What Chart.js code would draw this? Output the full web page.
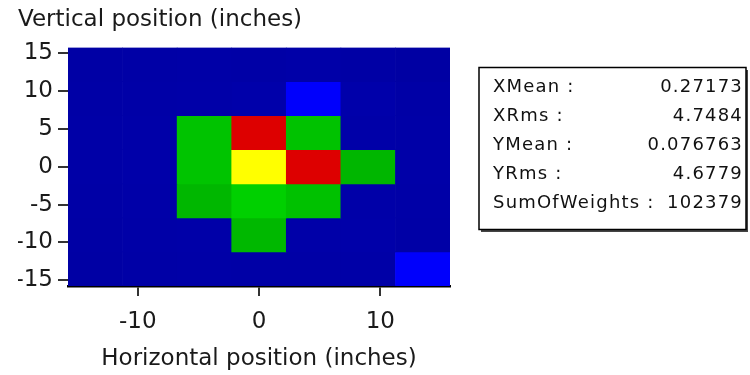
<!DOCTYPE html>
<html>
<head>
<meta charset="utf-8">
<script src="https://cdn.jsdelivr.net/npm/chart.js@4.4.0/dist/chart.umd.min.js"></script>
<style>
  html, body { margin: 0; padding: 0; background: #ffffff; }
  #wrap { width: 750px; height: 375px; position: relative; }
</style>
</head>
<body>
<div id="wrap"><canvas id="c" width="750" height="375"></canvas></div>
<script>
// Bin centres in inches (7 x 7 bins, each 4.5 in wide, spanning -15.75 .. 15.75)
const xBins = [-13.5, -9, -4.5, 0, 4.5, 9, 13.5];
const yBins = [13.5, 9, 4.5, 0, -4.5, -9, -13.5];
const binWidth = 4.5;
const axisMin = -15.75;
const axisMax = 15.75;

// Tick labels
const xTicks = [-10, 0, 10];
const yTicks = [-15, -10, -5, 0, 5, 10, 15];

// Entries per bin, one array per row of the histogram (top row first)
const rowY13_5 = [829, 900, 950, 900, 980, 870, 760];
const rowY9 = [880, 960, 1000, 1100, 2500, 1080, 900];
const rowY4_5 = [930, 1020, 5000, 8400, 4900, 1000, 940];
const rowY0 = [950, 1060, 5100, 9800, 8100, 3600, 1010];
const rowYm4_5 = [900, 1010, 3700, 6300, 4800, 1000, 960];
const rowYm9 = [860, 950, 1000, 3800, 1000, 1040, 880];
const rowYm13_5 = [790, 880, 960, 900, 900, 930, 2400];
const counts = [rowY13_5, rowY9, rowY4_5, rowY0, rowYm4_5, rowYm9, rowYm13_5];

// Statistics panel
const statLabels = ['XMean :', 'XRms :', 'YMean :', 'YRms :', 'SumOfWeights :'];
const statValues = ['0.27173', '4.7484', '0.076763', '4.6779', '102379'];

const FONT = '"DejaVu Sans", Verdana, sans-serif';

// Banded colour palette: dark blue -> blue -> green -> red -> yellow
function binColour(v) {
  const hex = n => Math.max(0, Math.min(255, Math.round(n))).toString(16).padStart(2, '0');
  if (v >= 9000) return '#ffff00';
  if (v >= 7000) return '#dd0000';
  if (v >= 3000) return '#00' + hex(0xb0 + (v - 3000) / 3300 * 0x20) + '00';
  if (v >= 2000) return '#0000fc';
  return '#0000' + hex(0xa4 + (v - 800) / 400 * 8);
}

const datasets = counts.map((row, r) => ({
  label: 'y = ' + yBins[r],
  data: xBins.map(x => ({ x: x, y: [yBins[r] - binWidth / 2, yBins[r] + binWidth / 2] })),
  backgroundColor: row.map(binColour),
  borderWidth: 0,
  grouped: false,
  barPercentage: 1,
  categoryPercentage: 1
}));

const statsBox = {
  id: 'statsBox',
  afterDraw(chart) {
    const ctx = chart.ctx;
    ctx.save();
    // shadow along right and bottom edges
    ctx.fillStyle = '#444444';
    ctx.fillRect(481, 230, 267, 2);
    ctx.fillRect(746, 70, 2, 162);
    ctx.strokeStyle = '#000000';
    ctx.lineWidth = 1.5;
    ctx.strokeRect(479, 67.5, 267, 162);
    ctx.font = '18px ' + FONT;
    ctx.fillStyle = '#111111';
    ctx.textBaseline = 'alphabetic';
    if ('letterSpacing' in ctx) ctx.letterSpacing = '1.2px';
    statLabels.forEach((t, i) => {
      const y = 91.5 + i * 29.2;
      ctx.textAlign = 'left';
      ctx.fillText(t, 493, y);
      ctx.textAlign = 'right';
      ctx.fillText(statValues[i], 743, y);
    });
    ctx.restore();
  }
};

new Chart(document.getElementById('c'), {
  type: 'bar',
  data: { datasets },
  plugins: [statsBox],
  options: {
    responsive: false,
    animation: false,
    events: [],
    layout: { padding: { left: 18, right: 300, top: 0, bottom: 0 } },
    plugins: {
      legend: { display: false },
      tooltip: { enabled: false },
      title: {
        display: true,
        text: 'Vertical position (inches)',
        align: 'start',
        color: '#1a1a1a',
        font: { family: FONT, size: 23, weight: 'normal' },
        padding: { top: 6, bottom: 14 }
      }
    },
    scales: {
      x: {
        type: 'linear',
        min: axisMin,
        max: axisMax,
        offset: false,
        afterBuildTicks: s => { s.ticks = xTicks.map(v => ({ value: v })); },
        afterFit: s => { s.height = 89; s.paddingLeft = 0; s.paddingRight = 0; },
        grid: { display: true, offset: false, drawOnChartArea: false, drawTicks: true, tickLength: 10, color: '#333333', lineWidth: 2 },
        border: { display: true, color: '#000000', width: 2.5 },
        ticks: { color: '#1a1a1a', padding: 12, maxRotation: 0, font: { family: FONT, size: 23 } },
        title: {
          display: true,
          text: 'Horizontal position (inches)',
          color: '#1a1a1a',
          font: { family: FONT, size: 23, weight: 'normal' },
          padding: { top: 6, bottom: 2 }
        }
      },
      y: {
        type: 'linear',
        min: axisMin,
        max: axisMax,
        afterBuildTicks: s => { s.ticks = yTicks.map(v => ({ value: v })); },
        afterFit: s => { s.width = 50; s.paddingTop = 0; s.paddingBottom = 0; },
        grid: { display: true, offset: false, drawOnChartArea: false, drawTicks: true, tickLength: 10, color: '#333333', lineWidth: 2 },
        border: { display: false },
        ticks: { color: '#1a1a1a', padding: 5, font: { family: FONT, size: 23 } }
      }
    }
  }
});
</script>
</body>
</html>
